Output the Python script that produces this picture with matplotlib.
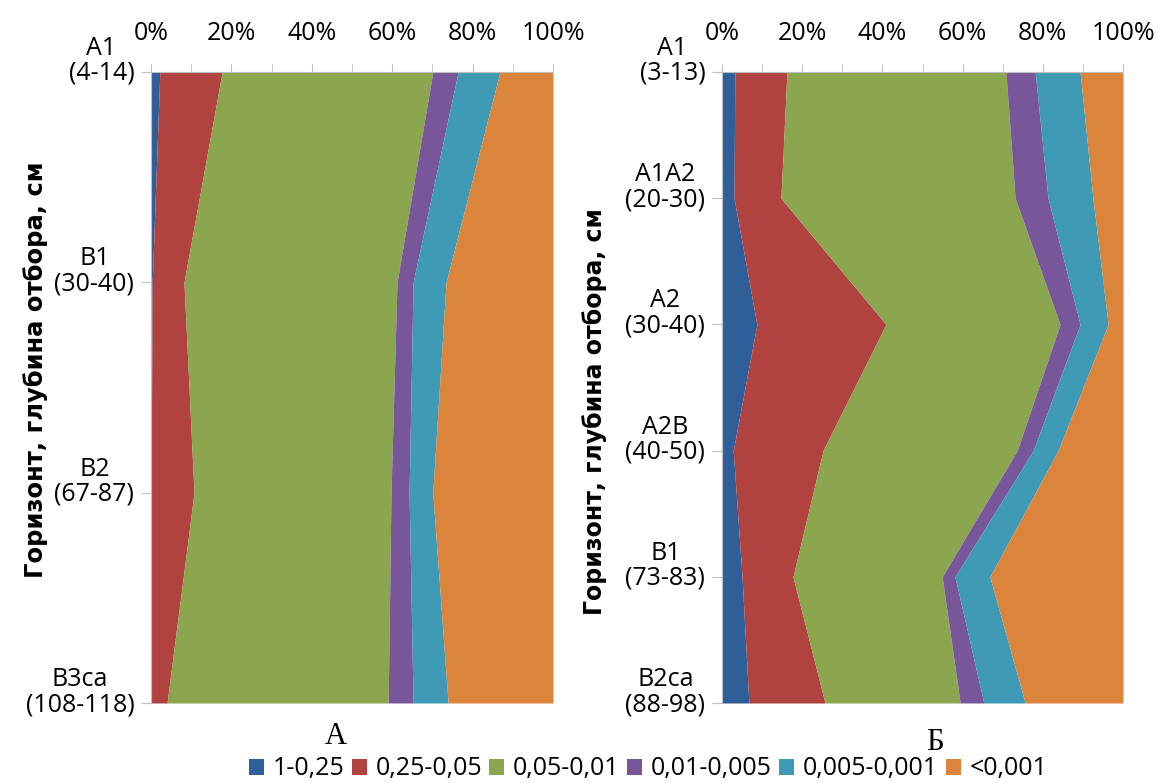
import matplotlib
matplotlib.use("Agg")
import matplotlib.pyplot as plt
import matplotlib.transforms as mtransforms
from matplotlib.patches import Patch
import numpy as np

# ---------------- data ----------------
fractions = ["1-0,25", "0,25-0,05", "0,05-0,01", "0,01-0,005", "0,005-0,001", "<0,001"]

horizons_a = ["A1\n(4-14)", "B1\n(30-40)", "B2\n(67-87)", "B3ca\n(108-118)"]
a_f1 = [2.2, 0.3, 0.0, 0.0]
a_f2 = [15.5, 7.9, 10.7, 4.0]
a_f3 = [52.4, 53.0, 49.0, 55.0]
a_f4 = [6.3, 4.0, 4.5, 6.2]
a_f5 = [10.4, 8.2, 5.9, 8.7]
a_f6 = [13.2, 26.6, 29.9, 26.1]

horizons_b = ["A1\n(3-13)", "A1A2\n(20-30)", "A2\n(30-40)", "A2B\n(40-50)",
              "B1\n(73-83)", "B2ca\n(88-98)"]
b_f1 = [3.2, 3.0, 8.7, 2.8, 5.0, 6.7]
b_f2 = [13.0, 11.7, 32.2, 22.4, 12.7, 19.0]
b_f3 = [54.6, 58.4, 43.4, 48.4, 37.2, 33.7]
b_f4 = [7.3, 8.2, 5.0, 4.0, 3.2, 5.9]
b_f5 = [11.2, 11.2, 7.0, 6.2, 8.7, 10.3]
b_f6 = [10.7, 7.5, 3.7, 16.2, 33.2, 24.4]

x_ticks = [0, 20, 40, 60, 80, 100]
x_tick_labels = ["0%", "20%", "40%", "60%", "80%", "100%"]
panel_labels = ["А", "Б"]
y_title = "Горизонт, глубина отбора, см"

colors = ["#2F5F98", "#B0433F", "#8BA64E", "#77579A", "#3E9AB5", "#DB843C"]

# ---------------- figure ----------------
W, H = 1158, 783
fig = plt.figure(figsize=(W / 100, H / 100), dpi=100)
plt.rcParams["font.family"] = ["Open Sans", "DejaVu Sans"]

FS = 18
spine_col = "#BFBFBF"


def draw_panel(rect, labels, series):
    ax = fig.add_axes(rect)
    n = len(labels)
    y = np.arange(n)
    data = np.array(series, dtype=float)
    tot = data.sum(axis=0)
    data = data / tot * 100.0
    cum = np.vstack([np.zeros(n), np.cumsum(data, axis=0)])
    for i in range(data.shape[0]):
        ax.fill_betweenx(y, cum[i], cum[i + 1], color=colors[i], linewidth=0)
    ax.set_xlim(0, 100)
    ax.set_ylim(n - 1, 0)
    ax.xaxis.tick_top()
    ax.set_xticks(x_ticks)
    ax.set_xticklabels(x_tick_labels, fontsize=FS)
    ax.set_xticks(np.arange(0, 101, 10), minor=True)
    ax.tick_params(axis="x", which="both", direction="out", length=6,
                   color=spine_col, pad=13)
    ax.set_yticks(y)
    ax.set_yticklabels(labels, fontsize=FS)
    ax.tick_params(axis="y", direction="out", length=7, color=spine_col, pad=5)
    off = mtransforms.ScaledTranslation(0, 14 / 100, fig.dpi_scale_trans)
    for lab in ax.get_yticklabels():
        lab.set_multialignment("center")
        lab.set_linespacing(1.0)
        lab.set_transform(lab.get_transform() + off)
    for s in ["right", "bottom"]:
        ax.spines[s].set_visible(False)
    for s in ["left", "top"]:
        ax.spines[s].set_color(spine_col)
        ax.spines[s].set_linewidth(0.8)
    return ax


axA = draw_panel([151 / W, 1 - 703 / H, 402 / W, 631 / H], horizons_a,
                 [a_f1, a_f2, a_f3, a_f4, a_f5, a_f6])
axB = draw_panel([722 / W, 1 - 703 / H, 401 / W, 631 / H], horizons_b,
                 [b_f1, b_f2, b_f3, b_f4, b_f5, b_f6])

# axis titles
fig.text(36 / W, 1 - 370 / H, y_title, rotation=90, ha="center", va="center",
         fontsize=17.5, fontweight="bold", family=["DejaVu Sans"])
fig.text(595 / W, 1 - 412 / H, y_title, rotation=90, ha="center", va="center",
         fontsize=17, fontweight="bold", family=["DejaVu Sans"])

# panel letters
fig.text(336 / W, 1 - 736 / H, panel_labels[0], ha="center", va="center",
         fontsize=22, family=["Liberation Serif", "DejaVu Serif"])
fig.text(935 / W, 1 - 742 / H, panel_labels[1], ha="center", va="center",
         fontsize=22, family=["Liberation Serif", "DejaVu Serif"])

# legend
handles = [Patch(facecolor=c, edgecolor="none") for c in colors]
fig.legend(handles, fractions, loc="center", bbox_to_anchor=(648 / W, 1 - 769 / H),
           ncol=6, frameon=False, fontsize=FS, handlelength=0.6, handleheight=0.6,
           handletextpad=0.35, columnspacing=0.3, borderaxespad=0, borderpad=0)

fig.savefig("out.png", dpi=100)
